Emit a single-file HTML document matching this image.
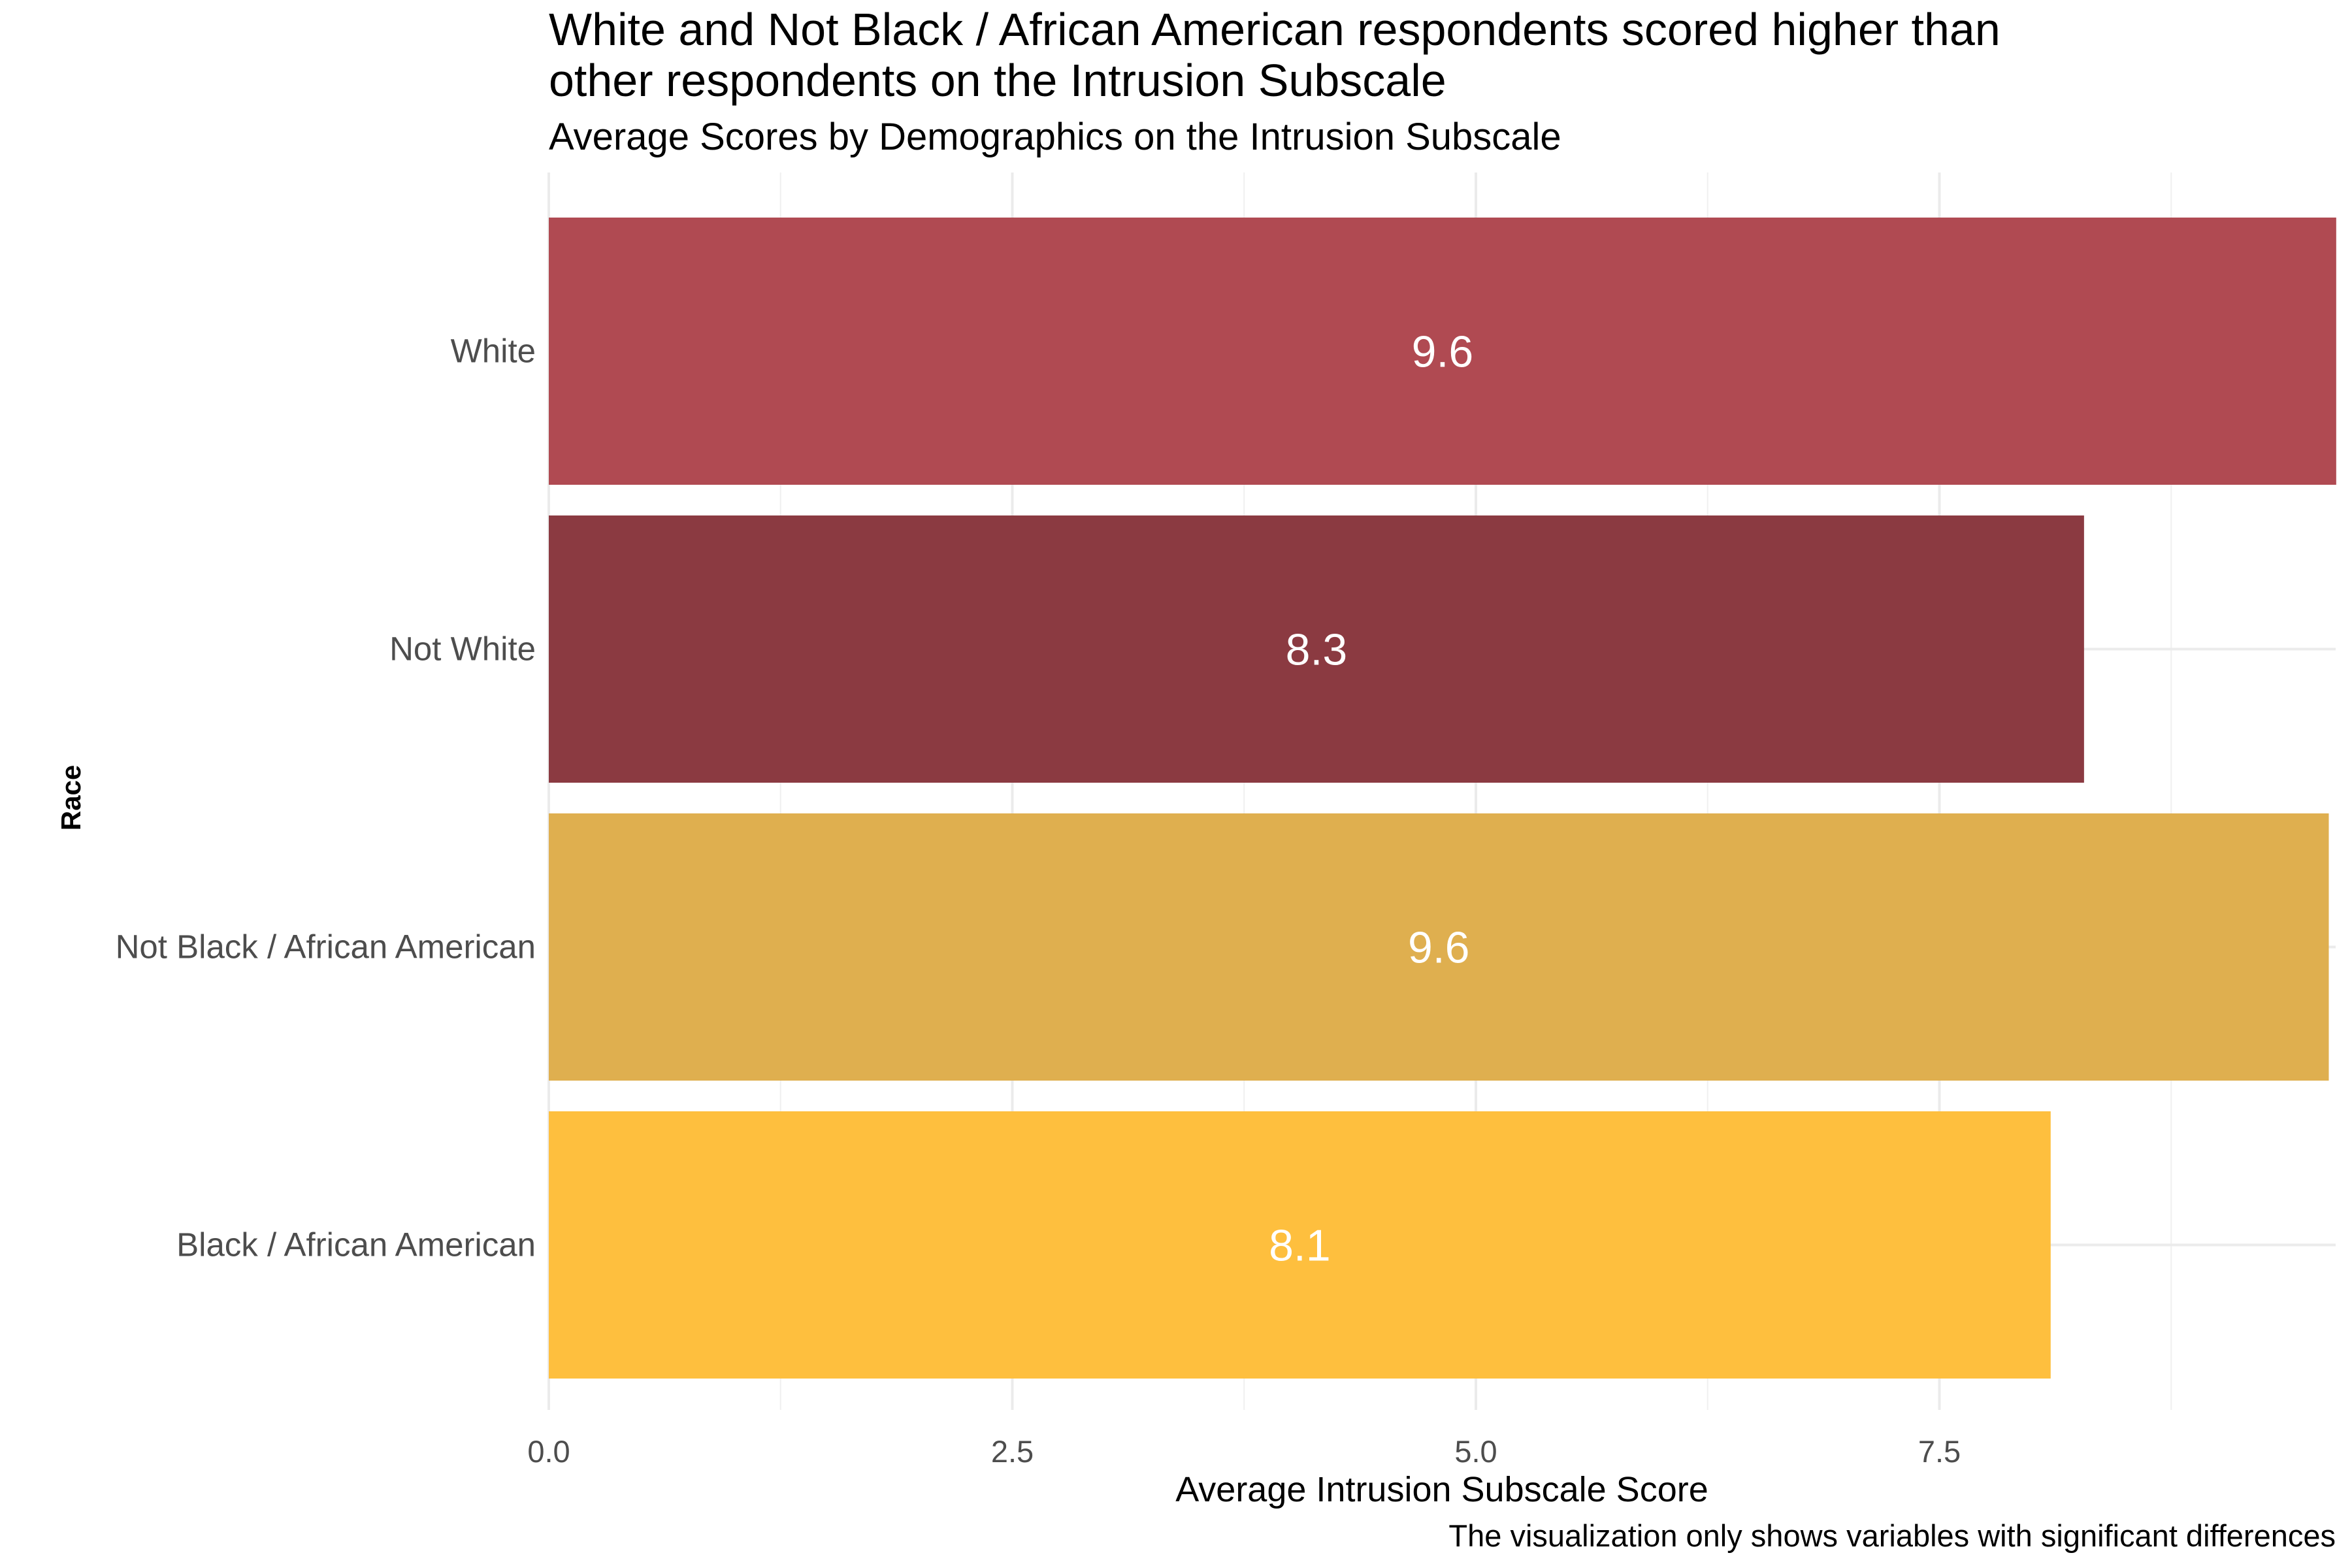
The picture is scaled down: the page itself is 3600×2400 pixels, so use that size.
<!DOCTYPE html>
<html><head><meta charset="utf-8"><style>
html,body{margin:0;padding:0;background:#fff;}
svg{display:block;font-family:"Liberation Sans",Arial,sans-serif;}
</style></head><body>
<svg id="chart" width="3600" height="2400" viewBox="0 0 3600 2400" xmlns="http://www.w3.org/2000/svg">
<text x="840" y="69" font-size="70" fill="#000">White and Not Black / African American respondents scored higher than</text>
<text x="840" y="147" font-size="70" fill="#000">other respondents on the Intrusion Subscale</text>
<text x="840" y="229" font-size="58" fill="#000">Average Scores by Demographics on the Intrusion Subscale</text>
<g id="grid"></g>
<g id="bars"></g>
<g id="axes"></g>
<text x="2207" y="2298" font-size="54" fill="#000" text-anchor="middle">Average Intrusion Subscale Score</text>
<text transform="translate(123,1221) rotate(-90)" font-size="42" font-weight="bold" fill="#000" text-anchor="middle">Race</text>
<text x="3575" y="2367" font-size="47" fill="#000" text-anchor="end">The visualization only shows variables with significant differences</text>
</svg>
<script>
const categories = ["White", "Not White", "Not Black / African American", "Black / African American"];
const values = [9.64, 8.28, 9.6, 8.1];
const valueLabels = ["9.6", "8.3", "9.6", "8.1"];
const barColors = ["#B04A52", "#8B3A41", "#DFAF4F", "#FEBF3E"];
const xTicks = [0, 2.5, 5, 7.5];
const xTickLabels = ["0.0", "2.5", "5.0", "7.5"];
const xMinor = [1.25, 3.75, 6.25, 8.75];

const NS = "http://www.w3.org/2000/svg";
const x0 = 840, pxPerUnit = 283.8, panelTop = 264, panelBottom = 2158, panelRight = 3575;
const bandStart = 333, bandStep = 456, barH = 409;
function xs(v){ return x0 + v * pxPerUnit; }
function yc(i){ return bandStart + i * bandStep + barH / 2; }
function mk(tag, attrs, parent){ const e = document.createElementNS(NS, tag); for (const k in attrs) e.setAttribute(k, attrs[k]); parent.appendChild(e); return e; }

const grid = document.getElementById("grid");
xMinor.forEach(v => {
  const l = mk("line", {x1: xs(v), x2: xs(v), y1: panelTop, y2: panelBottom, stroke: "#f0f0f0", "stroke-width": 2}, grid);
  
  
});
xTicks.forEach(v => {
  const l = mk("line", {x1: xs(v), x2: xs(v), y1: panelTop, y2: panelBottom, stroke: "#ebebeb", "stroke-width": 4}, grid);
  
  
});
categories.forEach((c, i) => {
  const l = mk("line", {x1: x0, x2: panelRight, y1: yc(i), y2: yc(i), stroke: "#ebebeb", "stroke-width": 4}, grid);
  
  
});

const bars = document.getElementById("bars");
categories.forEach((c, i) => {
  const w = xs(values[i]) - x0;
  const r = mk("rect", {x: x0, y: bandStart + i * bandStep, width: w, height: barH, fill: barColors[i]}, bars);
  
  
  const t = mk("text", {x: x0 + w / 2, y: yc(i) + 24, "font-size": 68, fill: "#fff", "text-anchor": "middle"}, bars);
  t.textContent = valueLabels[i];
  
  
});

const axes = document.getElementById("axes");
categories.forEach((c, i) => {
  const t = mk("text", {x: 820, y: yc(i) + 17, "font-size": 51, fill: "#4d4d4d", "text-anchor": "end"}, axes);
  t.textContent = c;
  
  
});
xTicks.forEach((v, i) => {
  const t = mk("text", {x: xs(v), y: 2238, "font-size": 47, fill: "#4d4d4d", "text-anchor": "middle"}, axes);
  t.textContent = xTickLabels[i];
  
  
});
</script>
</body></html>
